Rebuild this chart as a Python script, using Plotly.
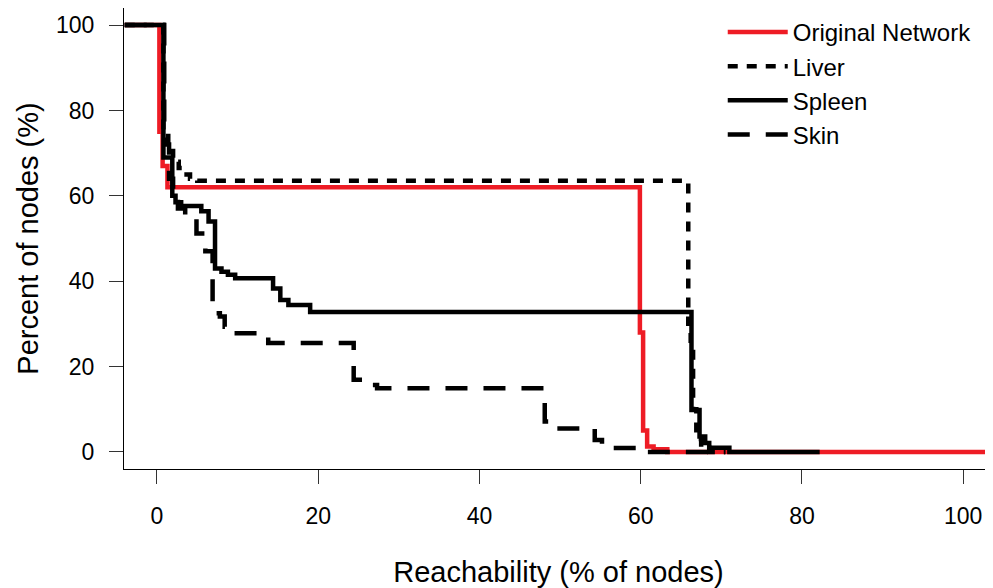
import plotly.graph_objects as go

# ---- data (step curves: x where the level starts, level in %) ----
orig_x = [-4, 0.3, 0.7, 1.3, 59.9, 60.3, 60.8, 61.6, 63.3, 103.7]
orig_y = [100, 75, 67, 62, 28, 5, 1.3, 0.6, 0, 0]

liver_x = [-4, 0.8, 1.4, 2.0, 2.7, 3.3, 4.1, 5.0, 65.9, 66.2, 66.5, 66.9, 67.5, 68.5, 70.5]
liver_y = [100, 74, 70.5, 68, 66.5, 65, 64, 63.5, 30, 25, 10, 3, 1, 0, 0]

spleen_x = [-4, 0.8, 1.9, 2.3, 3.0, 5.5, 6.4, 7.2, 8.0, 8.8, 9.7, 14.4, 15.3, 16.3, 19.0,
            66.3, 67.3, 68.0, 68.5, 71.0, 82.2]
spleen_y = [100, 69, 60, 58.5, 57.6, 56.4, 54, 43, 42.2, 41.5, 40.7, 38.3, 35.6, 34.4, 32.8,
            9.8, 3.6, 2.1, 1.0, 0, 0]

skin_x = [-4, 0.9, 1.5, 2.0, 2.6, 3.5, 4.9, 6.0, 6.9, 7.8, 8.4, 9.3, 12.8, 13.8, 24.4,
          26.4, 27.3, 48.1, 49.0, 54.3, 55.2, 60.5, 70.5]
skin_y = [100, 72, 64, 60, 57, 55.5, 51.2, 47, 32.5, 31.7, 29.3, 27.8, 27.0, 25.5, 16.9,
          15.7, 14.9, 7.1, 5.5, 2.8, 0.9, 0, 0]

tick_vals = [0, 20, 40, 60, 80, 100]
tick_text = ["0", "20", "40", "60", "80", "100"]

FONT = "Liberation Sans, Arial, Helvetica, sans-serif"

fig = go.Figure()
fig.add_trace(go.Scatter(x=orig_x, y=orig_y, mode="lines", name="Original Network",
                         line=dict(color="#ee1c25", width=4.5, shape="hv")))
fig.add_trace(go.Scatter(x=liver_x, y=liver_y, mode="lines", name="Liver",
                         line=dict(color="black", width=4.5, shape="hv", dash="10px,9px")))
fig.add_trace(go.Scatter(x=spleen_x, y=spleen_y, mode="lines", name="Spleen",
                         line=dict(color="black", width=4.5, shape="hv")))
fig.add_trace(go.Scatter(x=skin_x, y=skin_y, mode="lines", name="Skin",
                         line=dict(color="black", width=4.5, shape="hv", dash="22px,16px")))

fig.update_layout(
    width=985, height=580,
    margin=dict(l=116, r=0, t=0, b=119),
    paper_bgcolor="white", plot_bgcolor="white",
    font=dict(family=FONT, size=23, color="black"),
    showlegend=True,
    legend=dict(x=0.689, y=0.996, xanchor="left", yanchor="top",
                bgcolor="rgba(0,0,0,0)", font=dict(size=24), itemwidth=60,
                tracegroupgap=0),
    xaxis=dict(range=[-4.09, 103.7], tickvals=tick_vals, ticktext=tick_text,
               showgrid=False, zeroline=False, showline=True, mirror=True,
               linecolor="black", linewidth=1, ticks="outside", ticklen=14,
               tickcolor="#333", tickwidth=1, ticklabelstandoff=12,
               tickfont=dict(size=23),
               title=dict(text="Reachability (% of nodes)", font=dict(size=29), standoff=34)),
    yaxis=dict(range=[-4, 104], tickvals=tick_vals, ticktext=tick_text,
               showgrid=False, zeroline=False, showline=True, mirror=False,
               linecolor="black", linewidth=1, ticks="outside", ticklen=14,
               tickcolor="#333", tickwidth=1, ticklabelstandoff=10,
               tickfont=dict(size=23),
               title=dict(text="Percent of nodes (%)", font=dict(size=29), standoff=8)),
)

fig.write_html("out.html")
